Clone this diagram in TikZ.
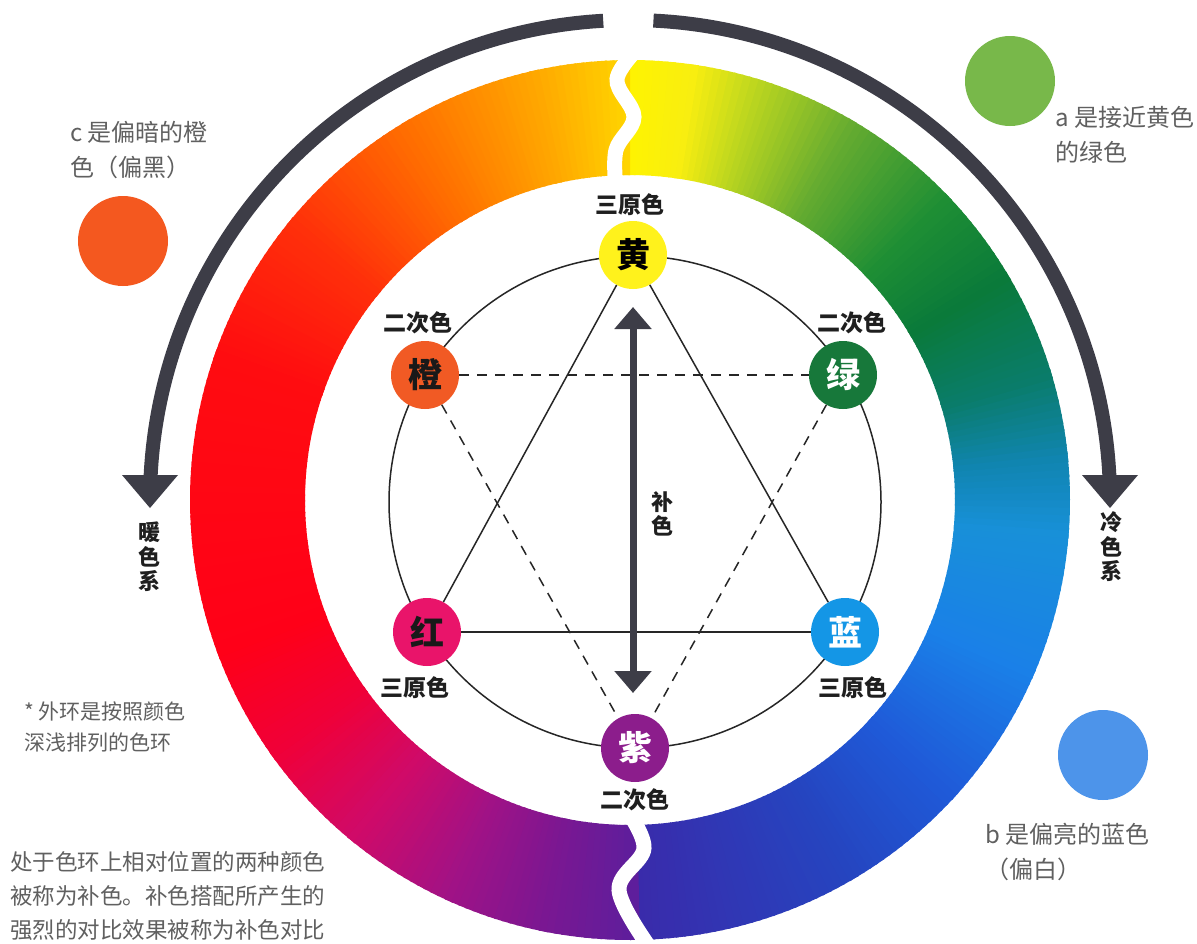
\documentclass[tikz,border=0pt]{standalone}
\usepackage{fontspec}
\setmainfont{Noto Sans CJK SC}
\usetikzlibrary{arrows.meta,calc}
% ring stops
\definecolor{s1}{HTML}{3A2AAA}
\definecolor{s2}{HTML}{2545C0}
\definecolor{s3}{HTML}{1F5AD8}
\definecolor{s4}{HTML}{1A80E8}
\definecolor{s5}{HTML}{1890D8}
\definecolor{s6}{HTML}{1085B0}
\definecolor{s7}{HTML}{0A7C6A}
\definecolor{s8}{HTML}{0A7A3A}
\definecolor{s9}{HTML}{1E8E34}
\definecolor{s10}{HTML}{66AC30}
\definecolor{s11}{HTML}{B8D420}
\definecolor{s12}{HTML}{F8EE10}
\definecolor{s13}{HTML}{FFF400}
\definecolor{t1}{HTML}{FFD400}
\definecolor{t2}{HTML}{FFA800}
\definecolor{t3}{HTML}{FF7000}
\definecolor{t4}{HTML}{FF300A}
\definecolor{t5}{HTML}{FF0C10}
\definecolor{t6}{HTML}{FF0018}
\definecolor{t7}{HTML}{F00038}
\definecolor{t8}{HTML}{D00A68}
\definecolor{t9}{HTML}{A01286}
\definecolor{t10}{HTML}{7A1792}
\definecolor{t11}{HTML}{5E1E9C}
% other colours
\definecolor{darkarrow}{HTML}{3D3D47}
\definecolor{nyellow}{HTML}{FFF21C}
\definecolor{norange}{HTML}{F15A24}
\definecolor{ngreen}{HTML}{17783A}
\definecolor{nred}{HTML}{E9146A}
\definecolor{nblue}{HTML}{1496E6}
\definecolor{npurple}{HTML}{8C1D8C}
\definecolor{dotorange}{HTML}{F4581F}
\definecolor{dotgreen}{HTML}{78B84A}
\definecolor{dotblue}{HTML}{4D94EA}
\definecolor{notegray}{HTML}{606060}
\begin{document}
\begin{tikzpicture}[x=1pt,y=1pt,
  cnode/.style={circle, minimum size=68pt, inner sep=0pt, font=\fontsize{34}{34}\selectfont\bfseries},
  lab/.style={font=\fontsize{23}{23}\selectfont\bfseries, text=black!88, inner sep=0pt},
  vlab/.style={font=\fontsize{22}{24.5}\selectfont\bfseries, text=black!88, align=center, inner sep=0pt},
  note/.style={font=\fontsize{24}{35}\selectfont, text=notegray, align=left, anchor=west, inner sep=0pt},
  solidline/.style={line width=1.5pt, black!85},
  dashline/.style={line width=1.5pt, black!85, dash pattern=on 10pt off 8pt},
  bigarc/.style={line width=14pt, darkarrow},
  gap/.style={white, line width=15pt},
  dot/.style={circle, minimum size=90pt, inner sep=0pt}
]
\useasboundingbox (0,0) rectangle (1197,-943);
\fill[white] (0,0) rectangle (1197,-943);

% ---- colour ring (conic gradient) ----
\begin{scope}[shift={(630,-500)}]
\foreach \aa/\ab/\ca/\cb in {-90/-60/s1/s2, -60/-43/s2/s3, -43/-24/s3/s4, -24/-5/s4/s5,
    -5/5/s5/s6, 5/16/s6/s7, 16/30/s7/s8, 30/43/s8/s9, 43/59/s9/s10, 59/72/s10/s11,
    72/81/s11/s12, 81/90/s12/s13,
    90/102/t1/t2, 102/120/t2/t3, 120/140/t3/t4, 140/160/t4/t5, 160/200/t5/t6,
    200/215/t6/t7, 215/230/t7/t8, 230/245/t8/t9, 245/258/t9/t10, 258/270/t10/t11}{
  \foreach \ang in {\aa,...,\ab}{
    \pgfmathsetmacro\p{100*(\ang-\aa)/(\ab-\aa)}
    \fill[\cb!\p!\ca] (\ang:325) -- (\ang:440) -- ({\ang+1.3}:440) -- ({\ang+1.3}:325) -- cycle;
  }
}
\end{scope}
% wavy white cuts
\draw[gap] plot[smooth, tension=0.6] coordinates {(642,-44) (617,-79) (634,-117) (616,-150) (616,-188)};
\draw[gap] plot[smooth, tension=0.6] coordinates {(624,-806) (644,-848) (619,-890) (650,-948)};

% ---- outer dark arrows ----
\coordinate (RC) at (630,-500);
\coordinate (WS) at ($(RC)+(93.2:480)$);
\coordinate (CS) at ($(RC)+(87.2:480)$);
\draw[bigarc] (WS) arc[start angle=93.2, end angle=177.5, radius=480];
\fill[darkarrow] (122,-475) -- (178,-475) -- (150,-508) -- cycle;
\draw[bigarc] (CS) arc[start angle=87.2, end angle=2.5, radius=480];
\fill[darkarrow] (1082,-475) -- (1138,-475) -- (1110,-508) -- cycle;
\node[vlab] (warm) at (149,-557) {暖\\色\\系};
\node[vlab] (cool) at (1111,-547) {冷\\色\\系};

% ---- inner circle ----
\draw[solidline] (635,-502) circle[radius=246];

% ---- colour nodes ----
\node[cnode, fill=nyellow, text=black] (Y) at (633,-255) {黄};
\node[cnode, fill=norange, text=black!90] (O) at (425,-375) {橙};
\node[cnode, fill=ngreen, text=white] (G) at (843,-375) {绿};
\node[cnode, fill=nred, text=black!90] (R) at (427,-632) {红};
\node[cnode, fill=nblue, text=white] (B) at (845,-632) {蓝};
\node[cnode, fill=npurple, text=white] (P) at (635,-748) {紫};

% triangles
\draw[solidline] (Y) -- (R);
\draw[solidline] (Y) -- (B);
\draw[solidline] (R) -- (B);
\draw[dashline] (O) -- (G);
\draw[dashline] (O) -- (P);
\draw[dashline] (G) -- (P);

% complementary arrow
\coordinate (ctop) at (633,-307);
\coordinate (cbot) at (633,-693);
\draw[darkarrow, line width=7pt, {Triangle[width=36pt,length=22pt]}-{Triangle[width=36pt,length=22pt]}] (ctop) -- (cbot);
\node[vlab] (comp) at (662,-514) {补\\色};

% node labels
\node[lab] (lY) at (630,-205) {三原色};
\node[lab] (lO) at (418,-323) {二次色};
\node[lab] (lG) at (852,-323) {二次色};
\node[lab] (lR) at (415,-688) {三原色};
\node[lab] (lB) at (853,-688) {三原色};
\node[lab] (lP) at (635,-800) {二次色};

% ---- sample dots and notes ----
\node[dot, fill=dotorange] (dc) at (123,-241) {};
\node[dot, fill=dotgreen] (da) at (1010,-81) {};
\node[dot, fill=dotblue] (db) at (1103,-755) {};
\node[note] (nc) at (70,-150.5) {c 是偏暗的橙\\色（偏黑）};
\node[note] (na) at (1055,-134.5) {a 是接近黄色\\的绿色};
\node[note] (nb) at (985,-851.5) {b 是偏亮的蓝色\\（偏白）};
\node[note, font=\fontsize{21}{31}\selectfont] (ns) at (24,-727) {* 外环是按照颜色\\深浅排列的色环};
\node[note, font=\fontsize{22.5}{34}\selectfont] (nbot) at (10,-896) {处于色环上相对位置的两种颜色\\被称为补色。补色搭配所产生的\\强烈的对比效果被称为补色对比};
\end{tikzpicture}
\end{document}
